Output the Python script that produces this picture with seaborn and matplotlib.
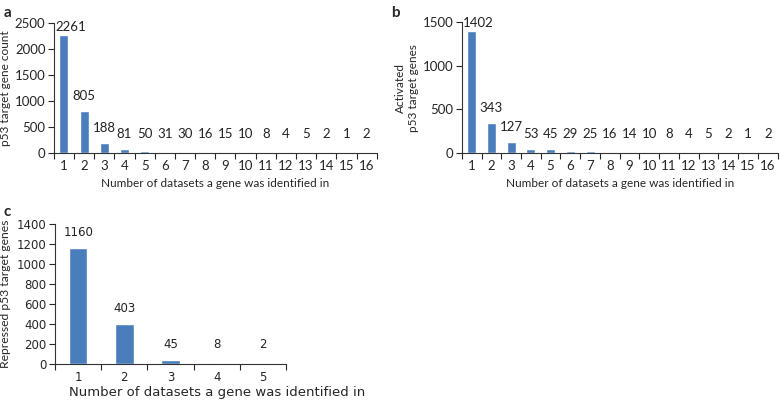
import pandas as pd
import matplotlib
matplotlib.use("Agg")
import matplotlib.pyplot as plt
import seaborn as sns

# data
datasets_ab = [str(i) for i in range(1, 17)]
total_counts = [2261, 805, 188, 81, 50, 31, 30, 16, 15, 10, 8, 4, 5, 2, 1, 2]
activated_counts = [1402, 343, 127, 53, 45, 29, 25, 16, 14, 10, 8, 4, 5, 2, 1, 2]
datasets_c = [str(i) for i in range(1, 6)]
repressed_counts = [1160, 403, 45, 8, 2]

sns.set_style("ticks")
plt.rcParams["font.family"] = ["Lato", "DejaVu Sans"]
bar_color = "#4a7ebb"
xlab = "Number of datasets a gene was identified in"

fig = plt.figure(figsize=(7.8, 4.01), dpi=100)
ax_a = fig.add_axes([0.069, 0.618, 0.414, 0.325])
ax_b = fig.add_axes([0.592, 0.618, 0.405, 0.327])
ax_c = fig.add_axes([0.0705, 0.092, 0.2965, 0.349])


def draw(ax, cats, vals, width, ymax, ystep, ylabel, fs, lfs, xfs, yfs,
         family=None, first_shift=0.0):
    fam = family or ["Lato", "DejaVu Sans"]
    df = pd.DataFrame({"n": cats, "count": vals})
    sns.barplot(data=df, x="n", y="count", color=bar_color, width=width,
                saturation=1, ax=ax)
    for i, v in enumerate(vals):
        # the label that would hit the top edge is nudged right (as in the original)
        if i == 0 and first_shift:
            ax.annotate(str(v), (i + first_shift, v), xytext=(0, 1.5),
                        textcoords="offset points", ha="center", va="bottom",
                        fontsize=lfs, color="#222222", family=fam,
                        annotation_clip=False)
        else:
            ax.annotate(str(v), (i, max(v, ymax * 0.03)), xytext=(0, 6.5),
                        textcoords="offset points", ha="center", va="bottom",
                        fontsize=lfs, color="#222222", family=fam)
    ax.set_xlim(-0.5, len(cats) - 0.5)
    ax.set_ylim(0, ymax)
    ax.set_yticks(range(0, ymax + 1, ystep))
    ax.set_xticks([i + 0.5 for i in range(-1, len(cats))], minor=True)
    ax.tick_params(axis="x", which="major", length=0, pad=5, labelsize=fs)
    ax.tick_params(axis="x", which="minor", length=4, width=0.8, direction="out")
    ax.tick_params(axis="y", length=4, width=0.8, labelsize=fs, pad=2)
    for t in ax.get_xticklabels() + ax.get_yticklabels():
        t.set_family(fam)
    ax.set_xlabel(xlab, fontsize=xfs, labelpad=4, family=fam)
    ax.set_ylabel(ylabel, fontsize=yfs, labelpad=3)
    sns.despine(ax=ax)
    for s in ["left", "bottom"]:
        ax.spines[s].set_linewidth(0.8)
        ax.spines[s].set_color("#333333")


draw(ax_a, datasets_ab, total_counts, 0.45, 2500, 500, "p53 target gene count",
     9.5, 9.5, 8.5, 8.5, first_shift=0.35)
draw(ax_b, datasets_ab, activated_counts, 0.45, 1500, 500, "Activated\np53 target genes",
     9.5, 9.5, 8.5, 8.5, first_shift=0.35)
# panel c text is wider in the original, so a wider face is used there
draw(ax_c, datasets_c, repressed_counts, 0.4, 1400, 200, "Repressed p53 target genes",
     8.5, 8.5, 9.5, 8.7, family=["DejaVu Sans"])
ax_c.xaxis.set_label_coords(0.70, -0.155)
ax_c.yaxis.set_label_coords(-0.19, 0.5)

fig.text(0.005, 0.985, "a", fontsize=11, fontweight="bold", va="top")
fig.text(0.502, 0.985, "b", fontsize=11, fontweight="bold", va="top")
fig.text(0.004, 0.49, "c", fontsize=11, fontweight="bold", va="top")

fig.savefig("out.png", dpi=100)
